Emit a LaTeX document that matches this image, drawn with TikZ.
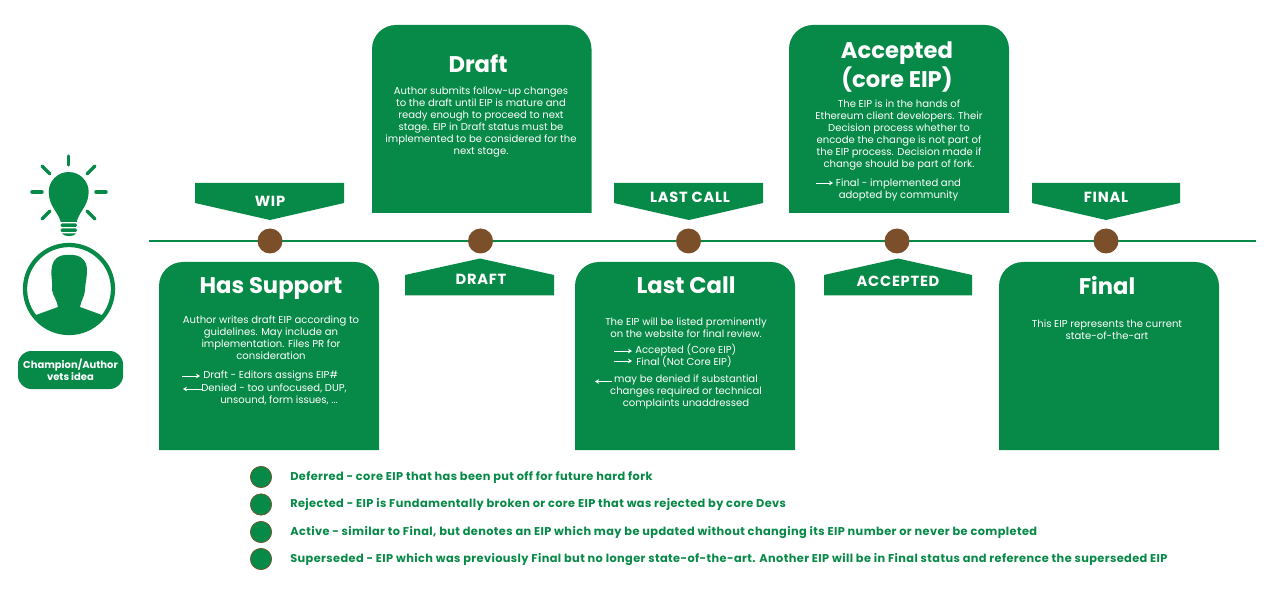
\documentclass[tikz,border=0pt]{standalone}
\usepackage{fontspec}
\setmainfont{Poppins}
\usepackage{xcolor}
\usetikzlibrary{arrows.meta, positioning}
\definecolor{eipgreen}{HTML}{078A47}
\definecolor{eipbrown}{HTML}{7B4F2A}

\begin{document}
\begin{tikzpicture}[
    x=0.75pt, y=-0.75pt,
    stagefill/.style={fill=eipgreen},
    title/.style={text=white, align=center, font=\fontsize{17}{20}\selectfont\bfseries, inner sep=0pt},
    body/.style={text=white, align=center, font=\fontsize{7.55}{9}\selectfont, inner sep=0pt},
    taglabel/.style={text=white, font=\addfontfeature{LetterSpace=5}\fontsize{11}{12}\selectfont\bfseries, inner sep=0pt},
    milestone/.style={circle, fill=eipbrown, minimum size=18.75pt, inner sep=0pt},
    legenddot/.style={circle, fill=eipgreen, draw=eipbrown, line width=0.5pt, minimum size=16pt, inner sep=0pt},
    legendtext/.style={text=eipgreen, anchor=west, text height=6.5pt, text depth=2pt, font=\addfontfeature{LetterSpace=3.6}\fontsize{8.5}{10}\selectfont\bfseries, inner sep=0pt},
    arrow/.style={-{Stealth[length=3pt, width=3.5pt]}, white, line width=0.5pt},
    ray/.style={draw=eipgreen, line width=2.6pt, line cap=round},
]
\useasboundingbox (0,0) rectangle (1266,598);

% idea and author
\draw[ray] (68.7,156) -- (68.7,165);
\draw[ray] (32,192) -- (42,192);
\draw[ray] (96,192) -- (106,192);
\draw[ray] (42,166) -- (50,174);
\draw[ray] (95,166) -- (87,174);
\draw[ray] (42,219) -- (50,211);
\draw[ray] (95,219) -- (87,211);
\fill[stagefill] (68.7,192) circle[radius=20];
\fill[stagefill] (49.3,197) .. controls (51,208) and (58,212) .. (60.7,222) -- (76.7,222) .. controls (79,212) and (86,208) .. (88.1,197) -- cycle;
\fill[stagefill, rounded corners=1pt] (60.5,223.5) rectangle (77,227);
\fill[stagefill, rounded corners=1pt] (60.5,228.5) rectangle (77,232);
\fill[stagefill] (62,233.5) -- (76,233.5) .. controls (74,237) and (64,237) .. (62,233.5) -- cycle;

\begin{scope}
\clip (69,289) circle[radius=44];
\fill[stagefill] (69,255) .. controls (80,254) and (87,260) .. (87,270)
    .. controls (87,279) and (85,284) .. (85,290) .. controls (85,296) and (81,300) .. (80,307)
    -- (102,315) -- (115,340) -- (23,340) -- (36,315) -- (58,307)
    .. controls (57,300) and (53,296) .. (52,290) .. controls (53,284) and (51,279) .. (51.5,270)
    .. controls (52,260) and (58,254) .. (69,255) -- cycle;
\end{scope}
\node[circle, draw=eipgreen, line width=3.2pt, minimum size=66pt, inner sep=0pt] (author) at (69,289) {};
\node[rectangle, fill=eipgreen, rounded corners=10pt, minimum width=78.75pt, minimum height=28.5pt, inner sep=0pt,
      text=white, align=center, font=\fontsize{7.5}{9}\selectfont\bfseries] (champion) at (70.5,370) {Champion/Author\\vets idea};

% timeline
\coordinate (linestart) at (149,241.5);
\coordinate (lineend) at (1256,241.5);
\draw[eipgreen, line width=1.5pt] (linestart) -- (lineend);
\node[milestone] (wipdot) at (270,241) {};
\node[milestone] (draftdot) at (480.5,241) {};
\node[milestone] (lastdot) at (688.5,241) {};
\node[milestone] (accdot) at (897,241) {};
\node[milestone] (finaldot) at (1106,241) {};

% tags
\fill[stagefill] (195,183) -- (344,183) -- (344,203) -- (270,220) -- (195,203) -- cycle;
\fill[stagefill] (614,183) -- (763,183) -- (763,203) -- (689,220) -- (614,203) -- cycle;
\fill[stagefill] (1032,183) -- (1180,183) -- (1180,203) -- (1106,220) -- (1032,203) -- cycle;
\fill[stagefill] (405,275) -- (480,258.5) -- (554,275) -- (554,295.5) -- (405,295.5) -- cycle;
\fill[stagefill] (824,275) -- (898,258.5) -- (972,275) -- (972,295.5) -- (824,295.5) -- cycle;
\node[taglabel] (wiptag) at (270,201.5) {WIP};
\node[taglabel] (lasttag) at (690,197.5) {LAST CALL};
\node[taglabel] (finaltag) at (1106,197.5) {FINAL};
\node[taglabel] (drafttag) at (481,279.5) {DRAFT};
\node[taglabel] (acctag) at (898,281) {ACCEPTED};

% stage boxes
\fill[stagefill] (159,450) [rounded corners=18pt] -- (159,262) -- (379,262) [sharp corners] -- (379,450) -- cycle;
\fill[stagefill] (372,213) [rounded corners=18pt] -- (372,25) -- (591.5,25) [sharp corners] -- (591.5,213) -- cycle;
\fill[stagefill] (575,450) [rounded corners=18pt] -- (575,262) -- (795,262) [sharp corners] -- (795,450) -- cycle;
\fill[stagefill] (789,213) [rounded corners=18pt] -- (789,25) -- (1009,25) [sharp corners] -- (1009,213) -- cycle;
\fill[stagefill] (999,450) [rounded corners=18pt] -- (999,262) -- (1219,262) [sharp corners] -- (1219,450) -- cycle;

\node[title] (hastitle) at (271,288.5) {Has Support};
\node[title] (drafttitle) at (478,64) {Draft};
\node[title] (lasttitle) at (686,285.5) {Last Call};
\node[title] (acctitle) at (897,67) {Accepted\\(core EIP)};
\node[title] (finaltitle) at (1107,285.5) {Final};

\node[body] (hasbody) at (271,338) {Author writes draft EIP according to\\guidelines. May include an\\implementation. Files PR for\\consideration};
\node[body, anchor=west] (hasdraft) at (203,376) {Draft - Editors assigns EIP\#};
\node[body, anchor=north] (hasdenied) at (274,384) {Denied - too unfocused, DUP,\\\hspace*{1em}unsound, form issues, ...};
\node[body] (draftbody) at (481,122.5) {Author submits follow-up changes\\to the draft until EIP is mature and\\ready enough to proceed to next\\stage. EIP in Draft status must be\\implemented to be considered for the\\next stage.};
\node[body] (lastbody) at (686,328) {The EIP will be listed prominently\\on the website for final review.};
\node[body, anchor=west] (lastacc) at (635,350) {Accepted (Core EIP)};
\node[body, anchor=west] (lastfinal) at (636,362) {Final (Not Core EIP)};
\node[body] (lastdenied) at (686,392) {may be denied if substantial\\changes required or technical\\complaints unaddressed};
\node[body] (accbody) at (899,135.5) {The EIP is in the hands of\\Ethereum client developers. Their\\Decision process whether to\\encode the change is not part of\\the EIP process. Decision made if\\change should be part of fork.};
\node[body] (accfinal) at (898.5,189.5) {Final - implemented and\\adopted by community};
\node[body] (finalbody) at (1107,329.5) {This EIP represents the current\\state-of-the-art};

% small arrows
\coordinate (hasout) at (182,376);
\coordinate (hasback) at (202,389);
\coordinate (lastout) at (614,351);
\coordinate (lastoutb) at (614,361);
\coordinate (lastback) at (612,381.5);
\coordinate (accout) at (816,183);
\coordinate (hasouttip) at (200,376);
\coordinate (hasbacktip) at (183,389);
\coordinate (lastouttip) at (632,351);
\coordinate (lastoutbtip) at (632,361);
\coordinate (lastbacktip) at (595,381.5);
\coordinate (accouttip) at (833,183);
\draw[arrow] (hasout) -- (hasouttip);
\draw[arrow] (hasback) -- (hasbacktip);
\draw[arrow] (lastout) -- (lastouttip);
\draw[arrow] (lastoutb) -- (lastoutbtip);
\draw[arrow] (lastback) -- (lastbacktip);
\draw[arrow] (accout) -- (accouttip);

% other statuses
\node[legenddot] (deferdot) at (261,477) {};
\node[legenddot] (rejectdot) at (261,504.5) {};
\node[legenddot] (activedot) at (261,532) {};
\node[legenddot] (superdot) at (261,559) {};
\node[legendtext] (defertext) at (290,477) {Deferred - core EIP that has been put off for future hard fork};
\node[legendtext] (rejecttext) at (290,504) {Rejected - EIP is Fundamentally broken or core EIP that was rejected by core Devs};
\node[legendtext] (activetext) at (290,532) {Active - similar to Final, but denotes an EIP which may be updated without changing its EIP number or never be completed};
\node[legendtext] (supertext) at (290,559) {Superseded - EIP which was previously Final but no longer state-of-the-art. Another EIP will be in Final status and reference the superseded EIP};
\end{tikzpicture}
\end{document}
